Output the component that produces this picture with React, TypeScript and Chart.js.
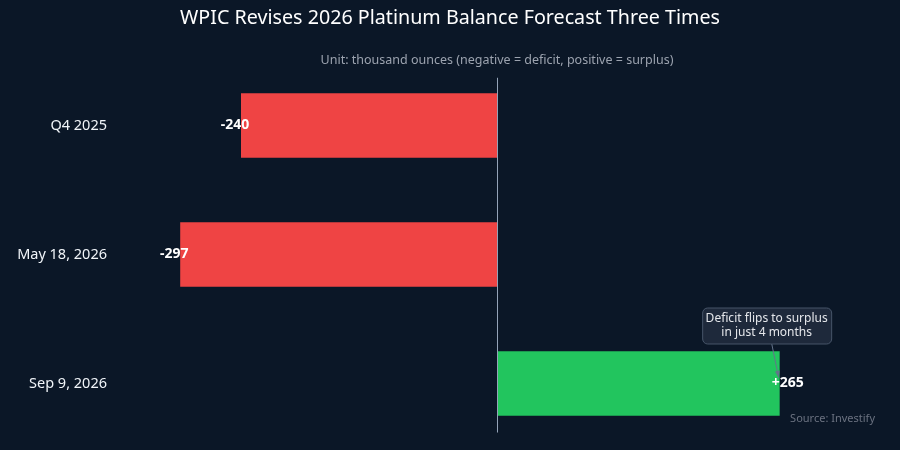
import React, { useEffect, useRef } from 'react';
import { Chart, registerables } from 'chart.js';

Chart.register(...registerables);

const categories = ['Q4 2025', 'May 18, 2026', 'Sep 9, 2026'];
const balances = [-240, -297, 265];
const valueLabels = ['-240', '-297', '+265'];
const barColors = ['#ef4444', '#ef4444', '#22c55e'];
const xMin = -360;
const xMax = 360;
const titleText = 'WPIC Revises 2026 Platinum Balance Forecast Three Times';
const subtitleText = 'Unit: thousand ounces (negative = deficit, positive = surplus)';
const noteLines = ['Deficit flips to surplus', 'in just 4 months'];
const noteIndex = 2;
const sourceText = 'Source: Investify';

const BG = '#0b1727';
const FONT = '"Noto Sans", "DejaVu Sans", sans-serif';

const overlay = {
  id: 'overlay',
  beforeDraw(chart: any) {
    const { ctx, width, height } = chart;
    ctx.save();
    ctx.fillStyle = BG;
    ctx.fillRect(0, 0, width, height);
    ctx.restore();
  },
  afterDatasetsDraw(chart: any) {
    const { ctx, chartArea } = chart;
    const x = chart.scales.x;
    const y = chart.scales.y;
    ctx.save();
    // zero line
    const x0 = Math.round(x.getPixelForValue(0)) + 0.5;
    ctx.strokeStyle = '#94a3b8';
    ctx.lineWidth = 1;
    ctx.beginPath();
    ctx.moveTo(x0, y.getPixelForValue(-0.37));
    ctx.lineTo(x0, y.getPixelForValue(2.38));
    ctx.stroke();

    // value labels
    ctx.font = `bold 14px ${FONT}`;
    ctx.fillStyle = '#ffffff';
    ctx.textAlign = 'center';
    ctx.textBaseline = 'middle';
    balances.forEach((v, i) => {
      const px = x.getPixelForValue(v) + (v < 0 ? -6 : 8);
      ctx.fillText(valueLabels[i], px, y.getPixelForValue(i));
    });

    // annotation
    const tx = x.getPixelForValue(balances[noteIndex]);
    const ty = y.getPixelForValue(noteIndex) - 6;
    const bx = tx - 13;
    const by = ty - 52;
    const bw = 129;
    const bh = 36;
    ctx.strokeStyle = '#64748b';
    ctx.lineWidth = 1;
    ctx.beginPath();
    ctx.moveTo(bx + 5, by + bh / 2);
    ctx.lineTo(tx - 1, ty);
    ctx.stroke();
    // arrow head
    const ang = Math.atan2(ty - (by + bh / 2), tx - 1 - (bx + 5));
    ctx.fillStyle = '#64748b';
    ctx.beginPath();
    ctx.moveTo(tx - 1, ty);
    ctx.lineTo(tx - 1 - 7 * Math.cos(ang - 0.35), ty - 7 * Math.sin(ang - 0.35));
    ctx.lineTo(tx - 1 - 7 * Math.cos(ang + 0.35), ty - 7 * Math.sin(ang + 0.35));
    ctx.closePath();
    ctx.fill();

    ctx.fillStyle = '#1e293b';
    ctx.strokeStyle = '#475569';
    ctx.beginPath();
    ctx.roundRect(bx - bw / 2 + 0.5, by - bh / 2 + 0.5, bw, bh, 5);
    ctx.fill();
    ctx.stroke();
    ctx.fillStyle = '#e5e7eb';
    ctx.font = `12px ${FONT}`;
    ctx.fillText(noteLines[0], bx, by - 7);
    ctx.fillText(noteLines[1], bx, by + 7);

    // title, subtitle, source
    ctx.fillStyle = '#ffffff';
    ctx.font = `19.7px ${FONT}`;
    ctx.fillText(titleText, chart.width / 2, 18);
    ctx.fillStyle = '#9ca3af';
    ctx.font = `12.5px ${FONT}`;
    ctx.fillText(subtitleText, (chartArea.left + chartArea.right) / 2, 60);
    ctx.fillStyle = '#6b7280';
    ctx.font = `11px ${FONT}`;
    ctx.textAlign = 'right';
    ctx.fillText(sourceText, 875, 419);
    ctx.restore();
  },
};

export default function App() {
  const ref = useRef<HTMLCanvasElement | null>(null);
  useEffect(() => {
    document.body.style.margin = '0';
    document.body.style.background = BG;
    const chart = new Chart(ref.current as HTMLCanvasElement, {
      type: 'bar',
      data: {
        labels: categories,
        datasets: [
          {
            data: balances,
            backgroundColor: barColors,
            borderWidth: 0,
            barPercentage: 0.5,
            categoryPercentage: 1,
          },
        ],
      },
      options: {
        indexAxis: 'y',
        animation: false,
        responsive: false,
        layout: { padding: { top: 61, bottom: 2, right: 19, left: 0 } },
        plugins: {
          legend: { display: false },
          tooltip: { enabled: false },
          title: { display: false },
        },
        scales: {
          x: { display: false, min: xMin, max: xMax },
          y: {
            grid: { display: false, drawTicks: false },
            border: { display: false },
            ticks: {
              color: '#f1f5f9',
              font: { size: 14.5, family: FONT },
              padding: 6,
            },
            afterFit(scale: any) {
              scale.width = 113;
              scale.paddingTop = 0;
              scale.paddingBottom = 0;
            },
          },
        },
      },
      plugins: [overlay],
    });
    return () => chart.destroy();
  }, []);
  return (
    <div style={{ position: 'absolute', left: 0, top: 0, width: 900, height: 450 }}>
      <canvas ref={ref} width={900} height={450} />
    </div>
  );
}
